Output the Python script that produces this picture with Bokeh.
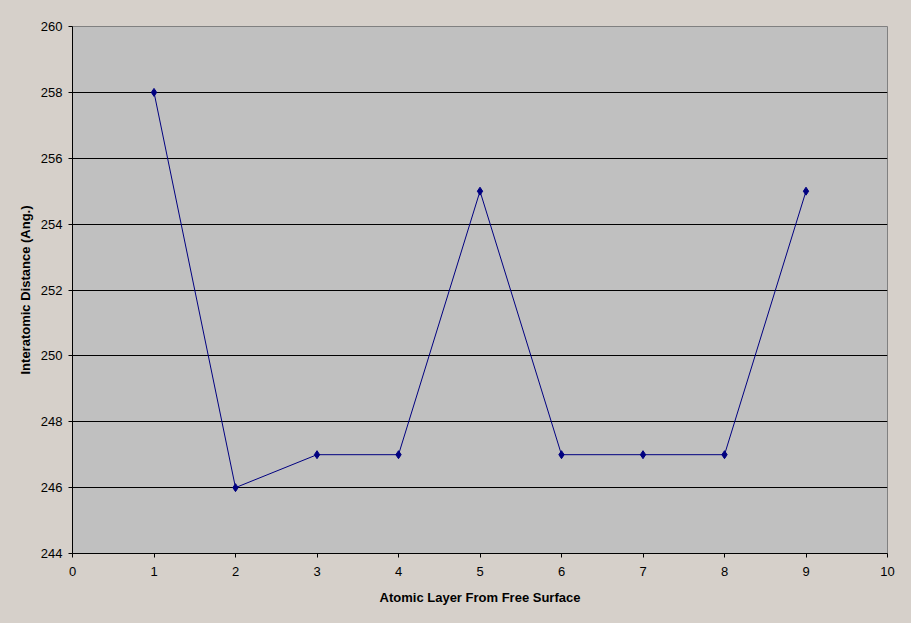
from bokeh.plotting import figure
from bokeh.embed import file_html
from bokeh.resources import INLINE
from bokeh.models import FixedTicker, Range1d

layers = [1, 2, 3, 4, 5, 6, 7, 8, 9]
distance = [258, 246, 247, 247, 255, 247, 247, 247, 255]
x_ticks = [0, 1, 2, 3, 4, 5, 6, 7, 8, 9, 10]
y_ticks = [244, 246, 248, 250, 252, 254, 256, 258, 260]

BG = "#D6D0CA"
PLOT_BG = "#C0C0C0"
FONT = "Liberation Sans"

p = figure(width=911, height=623, output_backend="svg", toolbar_location=None,
           x_range=Range1d(0, 10), y_range=Range1d(244, 260),
           min_border_left=72, min_border_right=24, min_border_top=26, min_border_bottom=70)
p.background_fill_color = PLOT_BG
p.border_fill_color = BG
p.outline_line_color = "#808080"
p.outline_line_width = 1

p.line(layers, distance, line_color="#000080", line_width=1)
p.scatter(layers, distance, marker="diamond", size=8, fill_color="#000080", line_color="#000080")

p.xaxis.ticker = FixedTicker(ticks=x_ticks)
p.yaxis.ticker = FixedTicker(ticks=y_ticks)
p.xgrid.visible = False
p.ygrid.ticker = FixedTicker(ticks=y_ticks[1:-1])
p.ygrid.grid_line_color = "black"
p.ygrid.grid_line_width = 1

for ax in (p.xaxis, p.yaxis):
    ax.axis_line_color = "black"
    ax.major_tick_line_color = "black"
    ax.major_tick_in = 0
    ax.major_tick_out = 4
    ax.minor_tick_line_color = None
    ax.major_label_text_font = FONT
    ax.major_label_text_font_size = "13px"
    ax.major_label_text_color = "black"
    ax.axis_label_text_font = FONT
    ax.axis_label_text_font_size = "13px"
    ax.axis_label_text_font_style = "bold"
    ax.axis_label_text_color = "black"

p.xaxis.axis_label = "Atomic Layer From Free Surface"
p.yaxis.axis_label = "Interatomic Distance (Ang.)"
p.xaxis.major_label_standoff = 9
p.yaxis.major_label_standoff = 6
p.xaxis.axis_label_standoff = 11
p.yaxis.axis_label_standoff = 5

html = file_html(p, INLINE)
html = html.replace("</head>", "<style>html,body{background:%s;margin:0;padding:0;overflow:hidden;}</style></head>" % BG, 1)
open("out.html", "w").write(html)
